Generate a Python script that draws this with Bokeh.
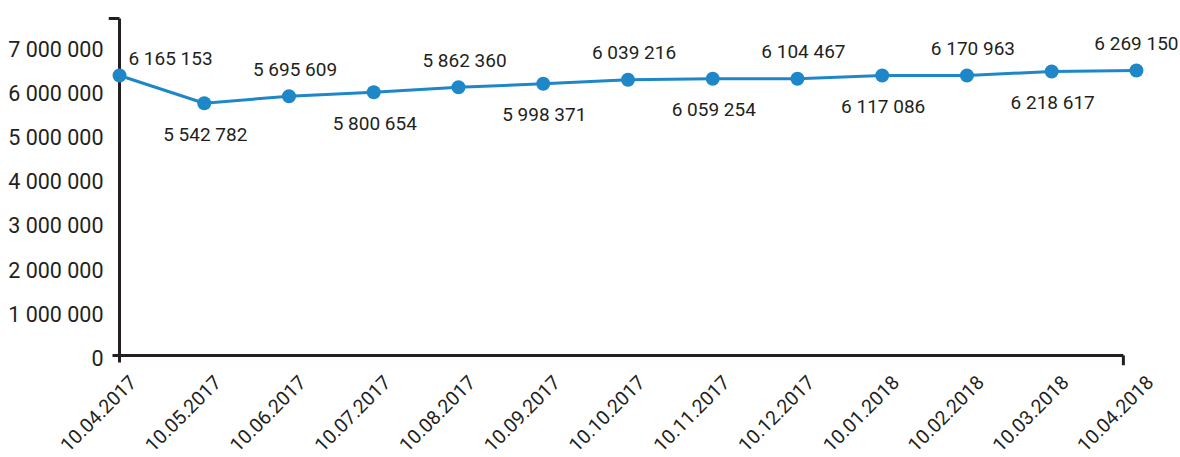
import math
from bokeh.plotting import figure
from bokeh.models import Range1d, FixedTicker, LinearAxis, ColumnDataSource
from bokeh.core.properties import value
from bokeh.embed import file_html
from bokeh.resources import INLINE

# ---- data ----
dates = ["10.04.2017", "10.05.2017", "10.06.2017", "10.07.2017", "10.08.2017",
         "10.09.2017", "10.10.2017", "10.11.2017", "10.12.2017", "10.01.2018",
         "10.02.2018", "10.03.2018", "10.04.2018"]
values = [6335000, 5708000, 5867000, 5957000, 6070000, 6147000, 6238000,
          6260000, 6260000, 6335000, 6335000, 6425000, 6448000]
value_labels = ["6 165 153", "5 542 782", "5 695 609", "5 800 654", "5 862 360",
                "5 998 371", "6 039 216", "6 059 254", "6 104 467", "6 117 086",
                "6 170 963", "6 218 617", "6 269 150"]
y_ticks = [0, 1000000, 2000000, 3000000, 4000000, 5000000, 6000000, 7000000]
y_tick_labels = ["0", "1 000 000", "2 000 000", "3 000 000", "4 000 000",
                 "5 000 000", "6 000 000", "7 000 000"]

# ---- style ----
BLUE = "#1e87c8"
INK = "#231f20"
FONT = "Roboto"
PX_X = 84.75          # px per category
PX_Y = 44.2 / 1e6     # px per unit

X0, X1 = -0.13, 12.52
Y0, Y1 = -226000, 7851000

p = figure(frame_width=1072, frame_height=357,
           x_range=Range1d(X0, X1), y_range=Range1d(Y0, Y1),
           x_axis_type=None, y_axis_type=None, output_backend="svg",
           toolbar_location=None, min_border_left=108, min_border_right=0,
           min_border_top=8, min_border_bottom=92)
p.outline_line_color = None
p.background_fill_color = "white"
p.border_fill_color = "white"

p.extra_y_ranges = {"lab": Range1d(Y0 + 3 / PX_Y, Y1 + 3 / PX_Y)}

yaxis = LinearAxis(y_range_name="lab", ticker=FixedTicker(ticks=y_ticks),
                   major_label_overrides={t: l for t, l in zip(y_ticks, y_tick_labels)})
yaxis.axis_line_color = None
yaxis.major_tick_line_color = None
yaxis.minor_tick_line_color = None
yaxis.major_tick_out = 0
yaxis.major_tick_in = 0
yaxis.major_label_standoff = 5
yaxis.major_label_text_font = FONT
yaxis.major_label_text_font_size = "21.5px"
yaxis.major_label_text_color = INK
p.add_layout(yaxis, "left")

# axis lines (bracket style)
ax_top = 7624000
ax_bot = -158000
ax_left = -0.083
ax_right = 11.846
p.segment(x0=[0, ax_left, X0, ax_right], y0=[ax_bot, 0, ax_top, 0],
          x1=[0, ax_right, 0, ax_right], y1=[ax_top, 0, ax_top, Y0],
          line_color=INK, line_width=3)

n = len(dates)
xs = list(range(n))
xo = [51 if i == 0 else (6 if i % 2 == 0 else 1) for i in xs]
xo[-1] = 0
src = ColumnDataSource(dict(
    x=xs, y=values, lab=value_labels, d=dates, yb=[Y0] * n,
    xo=xo,
    yo=[-17 if i == 0 else (-27 if i % 2 == 0 else 31) for i in xs],
))

p.line("x", "y", source=src, line_color=BLUE, line_width=3)
p.scatter("x", "y", source=src, size=14, fill_color=BLUE, line_color=None)
t = p.text("x", "y", text="lab", source=src, x_offset="xo", y_offset="yo",
           text_align="center", text_baseline="middle", text_font=value(FONT),
           text_font_size="19px", text_color=INK)
t.level = "overlay"

# category labels (rotated, under the axis)
xl = p.text("x", "yb", text="d", source=src, x_offset=13, y_offset=13,
            angle=math.pi / 4, text_align="right", text_baseline="middle",
            text_font=value(FONT), text_font_size="19.5px", text_color=INK)
xl.level = "overlay"

open("out.html", "w").write(file_html(p, INLINE))
